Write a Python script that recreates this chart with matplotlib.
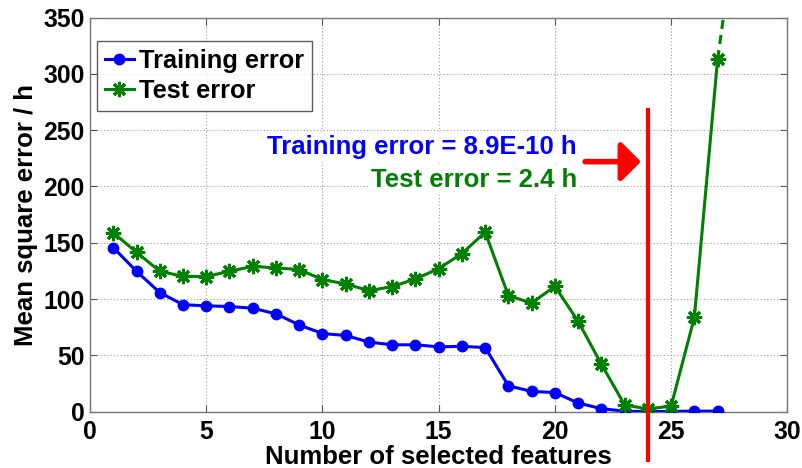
import matplotlib
matplotlib.use("Agg")
import matplotlib.pyplot as plt

# datos
n_features = list(range(1, 28))
train_err = [145.7, 124.7, 105.8, 95.0, 94.0, 93.4, 91.9, 86.9, 77.0, 69.4,
             67.7, 61.8, 59.4, 59.4, 57.6, 58.0, 57.0, 23.0, 18.0, 17.0,
             7.7, 2.7, 0.5, 0.0, 0.3, 0.5, 0.5]
test_err = [158.9, 141.6, 124.7, 120.2, 120.0, 124.7, 129.0, 127.7, 126.2, 117.3,
            113.4, 107.5, 111.0, 117.9, 127.0, 140.4, 159.4, 103.0, 96.5, 111.3,
            80.2, 42.2, 6.0, 2.4, 5.0, 83.7, 313.0]
# continuacion (fuera de escala) de la curva de test
test_tail_x = [27, 27.25]
test_tail_y = [313.0, 350.0]

best_n = 24
train_text = "Training error = 8.9E-10 h"
test_text = "Test error = 2.4 h"

plt.rcParams['font.family'] = ['Liberation Sans', 'DejaVu Sans']
plt.rcParams['font.weight'] = 'bold'

fig = plt.figure(figsize=(8.03, 4.68), dpi=100)
ax = fig.add_axes([0.1121, 0.1203, 0.8684, 0.8423])

ax.plot(n_features, train_err, color='#0000ff', lw=2.2, marker='o', ms=7.5,
        label='Training error', zorder=3)
ax.plot(n_features, test_err, color='#008000', lw=2.2, marker=(8, 2, 0), ms=11,
        mew=2.2, label='Test error', zorder=4)
ax.plot(test_tail_x, test_tail_y, color='#008000', lw=2.2, ls=(0, (3, 2)), zorder=4)

# linea roja en el optimo
ax.plot([best_n, best_n], [268, -43], color='#ff0000', lw=3, clip_on=False, zorder=5)
ax.annotate('', xy=(23.7, 222), xytext=(21.3, 222),
            arrowprops=dict(arrowstyle='-|>,head_length=0.6,head_width=0.6',
                            mutation_scale=20, color='#ff0000', lw=4,
                            shrinkA=0, shrinkB=0),
            zorder=5)

ax.text(20.95, 235, train_text, color='#0000ff', fontsize=18.5, fontweight='bold',
        ha='right', va='center', zorder=2,
        bbox=dict(facecolor='white', edgecolor='none', pad=2))
ax.text(20.95, 205.5, test_text, color='#008000', fontsize=18.5, fontweight='bold',
        ha='right', va='center', zorder=2,
        bbox=dict(facecolor='white', edgecolor='none', pad=2))

ax.set_xlim(0, 30)
ax.set_ylim(0, 350)
ax.set_xticks(range(0, 31, 5))
ax.set_yticks(range(0, 351, 50))
ax.tick_params(direction='in', top=True, right=True, labelsize=17.8, length=5,
               color='#555555')
ax.tick_params(axis='x', pad=6)
ax.tick_params(axis='y', pad=4)
for lbl in ax.get_xticklabels() + ax.get_yticklabels():
    lbl.set_fontweight('bold')
ax.grid(True, color='#999999', ls=(0, (1, 2)), lw=0.8)
for s in ax.spines.values():
    s.set_color('#777777')
    s.set_linewidth(1)

ax.set_xlabel('Number of selected features', fontsize=18.5, fontweight='bold', labelpad=1)
ax.set_ylabel('Mean square error / h', fontsize=18.5, fontweight='bold', labelpad=4)

leg = ax.legend(loc='upper left', fontsize=18.3, frameon=True, fancybox=False,
                handlelength=1.15, handletextpad=0.2, borderpad=0.3,
                labelspacing=0.25, bbox_to_anchor=(0.01, 0.94), borderaxespad=0)
leg.get_frame().set_edgecolor('#333333')
leg.get_frame().set_linewidth(1)
leg.set_zorder(6)

fig.savefig('out.png', dpi=100)
